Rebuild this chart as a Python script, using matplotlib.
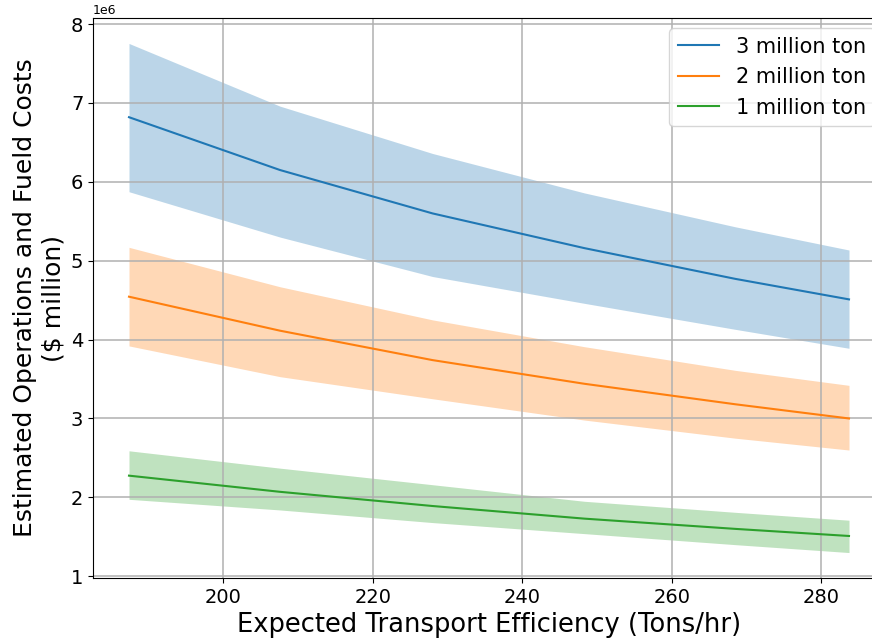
import numpy as np
import matplotlib
matplotlib.use("Agg")
import matplotlib.pyplot as plt

# transport efficiency (tons/hr) at which costs were evaluated
efficiency = [187.4, 207.6, 228.0, 248.3, 268.5, 283.7]

# estimated operations + fuel costs, $ (mean, upper and lower bound)
mean_3m = [6.82e6, 6.15e6, 5.60e6, 5.16e6, 4.77e6, 4.51e6]
upper_3m = [7.755e6, 6.96e6, 6.36e6, 5.86e6, 5.43e6, 5.136e6]
lower_3m = [5.875e6, 5.30e6, 4.80e6, 4.46e6, 4.13e6, 3.89e6]

mean_2m = [4.544e6, 4.113e6, 3.74e6, 3.44e6, 3.18e6, 3.00e6]
upper_2m = [5.17e6, 4.67e6, 4.25e6, 3.91e6, 3.61e6, 3.42e6]
lower_2m = [3.92e6, 3.53e6, 3.25e6, 2.98e6, 2.75e6, 2.60e6]

mean_1m = [2.275e6, 2.07e6, 1.89e6, 1.73e6, 1.60e6, 1.51e6]
upper_1m = [2.59e6, 2.37e6, 2.16e6, 1.95e6, 1.81e6, 1.71e6]
lower_1m = [1.975e6, 1.84e6, 1.68e6, 1.54e6, 1.40e6, 1.30e6]

labels = ["3 million ton", "2 million ton", "1 million ton"]

fig = plt.figure(figsize=(8.72, 6.39), dpi=100)
# axes run past the right edge of the canvas
ax = fig.add_axes([93 / 872, 61 / 639, 792 / 872, 560 / 639])

series = [(mean_3m, upper_3m, lower_3m),
          (mean_2m, upper_2m, lower_2m),
          (mean_1m, upper_1m, lower_1m)]

for i, (mean, upper, lower) in enumerate(series):
    color = "C%d" % i
    ax.plot(efficiency, mean, color=color, label=labels[i])
    ax.fill_between(efficiency, lower, upper, color=color, alpha=0.3,
                    linewidth=0)

ax.set_xlabel("Expected Transport Efficiency (Tons/hr)", fontsize=18.5)
ax.set_ylabel("Estimated Operations and Fueld Costs\n($ million)",
              fontsize=18)
ax.tick_params(labelsize=14)
ax.yaxis.get_offset_text().set_fontsize(9)
ax.legend(loc="upper right", fontsize=15)
ax.grid(True, linewidth=1.1)

plt.savefig("out.png", dpi=100)
